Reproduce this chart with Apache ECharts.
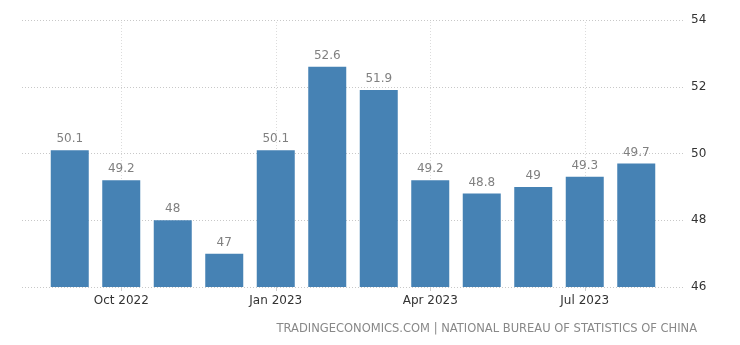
<!DOCTYPE html>
<html><head><meta charset="utf-8">
<script src="https://cdn.jsdelivr.net/npm/echarts@6/dist/echarts.min.js"></script>
<style>html,body{margin:0;padding:0;background:#fff}#c{width:740px;height:345px}</style>
</head><body><div id="c"></div>
<script>
const categories = ['Sep 2022','Oct 2022','Nov 2022','Dec 2022','Jan 2023','Feb 2023','Mar 2023','Apr 2023','May 2023','Jun 2023','Jul 2023','Aug 2023'];
const values = [50.1, 49.2, 48, 47, 50.1, 52.6, 51.9, 49.2, 48.8, 49, 49.3, 49.7];
const labelledCategories = ['Oct 2022','Jan 2023','Apr 2023','Jul 2023'];
const yTicks = [46, 48, 50, 52, 54];

const showIdx = (i) => labelledCategories.indexOf(categories[i]) >= 0;
const font = 'Tahoma, "DejaVu Sans", sans-serif';
const chart = echarts.init(document.getElementById('c'));
chart.setOption({
  animation: false,
  backgroundColor: '#fff',
  grid: [
    {left: 22, right: 55, top: 20, bottom: 58},
    {left: 44, right: 78, top: 20, bottom: 58}
  ],
  xAxis: [
    {gridIndex: 0, type: 'value', min: 0, max: 1, show: false},
    {gridIndex: 1, type: 'category', data: categories,
     axisLine: {show: false},
     axisTick: {show: true, alignWithLabel: true, interval: (i) => showIdx(i), length: 4, lineStyle: {color: '#ccc'}},
     axisLabel: {interval: (i) => showIdx(i), color: '#333', fontSize: 12, fontFamily: font, margin: 8},
     splitLine: {show: false}}
  ],
  yAxis: [
    {gridIndex: 0, type: 'value', position: 'right', min: yTicks[0], max: yTicks[yTicks.length-1], interval: 2,
     axisLine: {show: false}, axisTick: {show: false},
     axisLabel: {color: '#333', fontSize: 12, fontFamily: font, margin: 6},
     splitLine: {show: true, lineStyle: {color: '#c8c8c8', type: [1, 2], width: 1}}},
    {gridIndex: 1, type: 'value', min: yTicks[0], max: yTicks[yTicks.length-1], show: false}
  ],
  series: [{
    type: 'scatter', xAxisIndex: 1, yAxisIndex: 1, data: [], z: 0, silent: true,
    markLine: {
      silent: true, symbol: 'none', label: {show: false}, z: 0,
      lineStyle: {color: '#dcdcdc', type: [1, 2], width: 1},
      data: labelledCategories.map(c => ({xAxis: c}))
    }
  }, {
    type: 'bar', xAxisIndex: 1, yAxisIndex: 1, data: values, barWidth: 38, z: 5,
    itemStyle: {color: '#4682b4'},
    label: {show: true, position: 'top', distance: 5, color: '#808080', fontSize: 12, fontFamily: font}
  }],
  graphic: [{
    type: 'text', right: 43, top: 323,
    style: {text: 'TRADINGECONOMICS.COM | NATIONAL BUREAU OF STATISTICS OF CHINA', fill: '#888', fontSize: 11.5, fontFamily: font}
  }]
});
</script></body></html>
